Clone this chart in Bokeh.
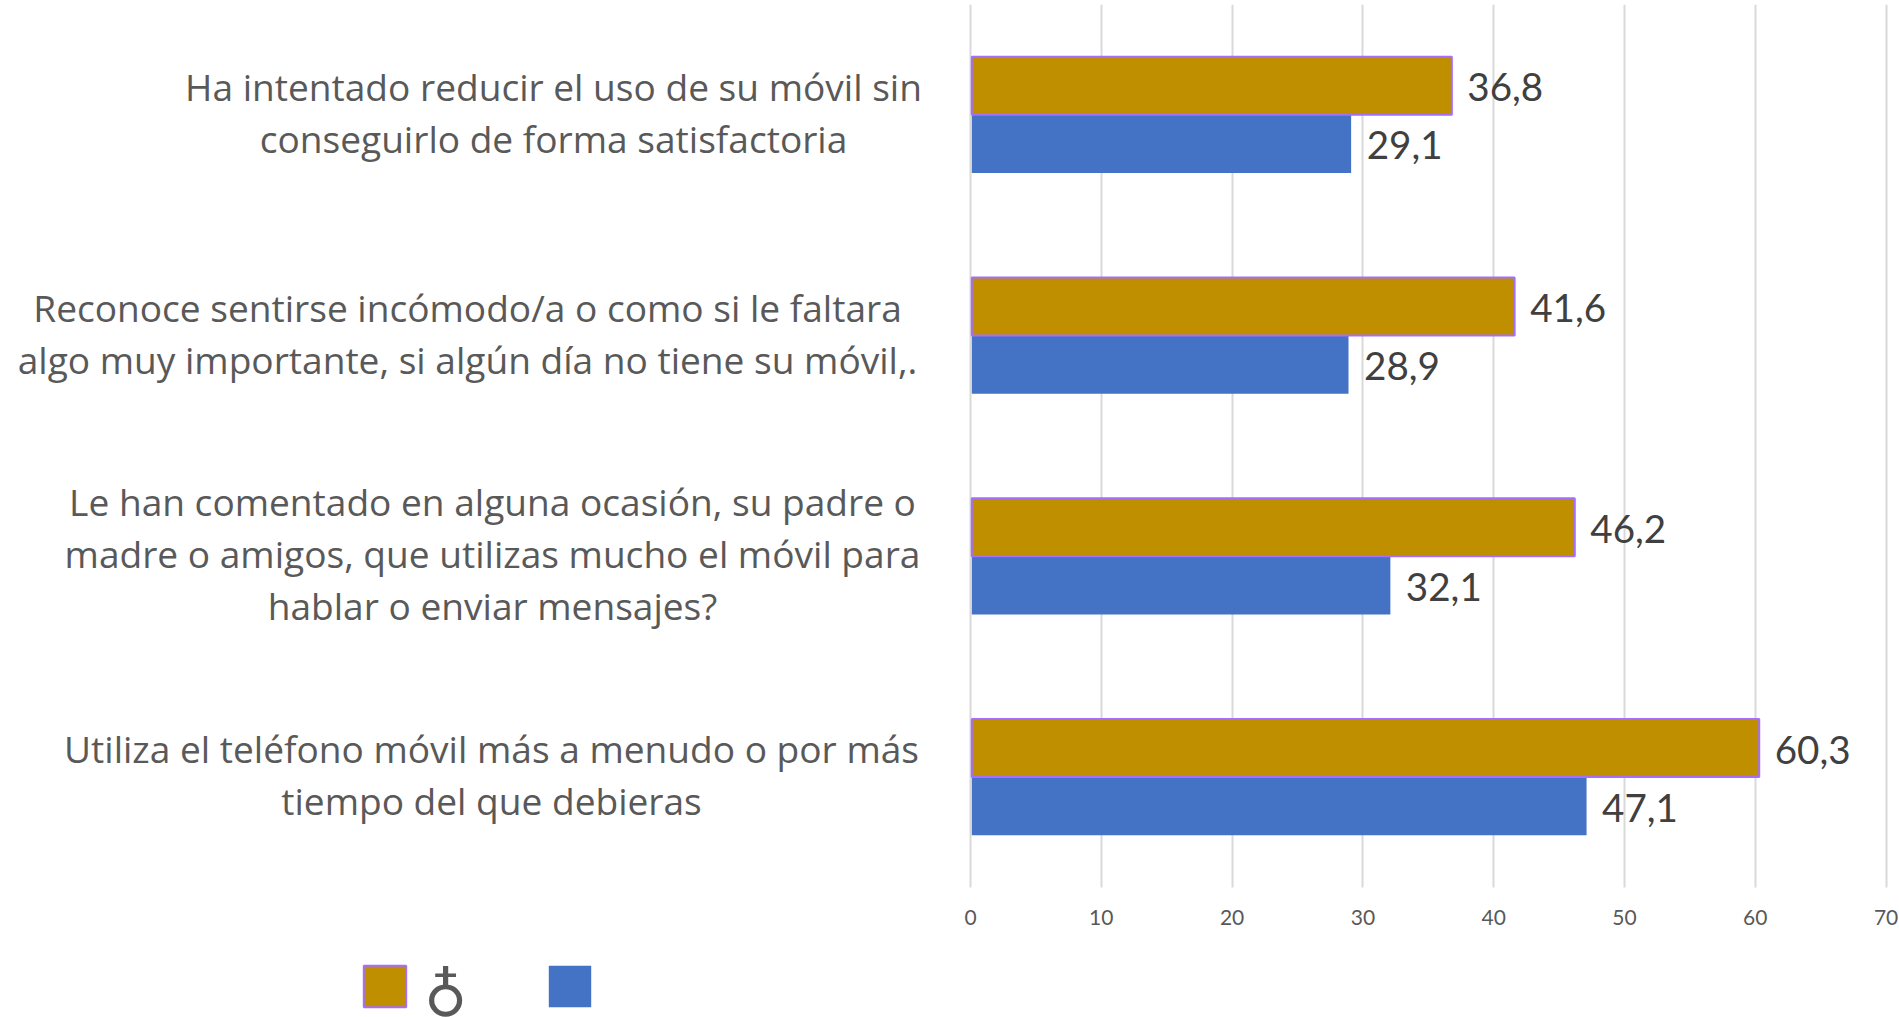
from bokeh.plotting import figure
from bokeh.models import Range1d, FixedTicker, Legend, LegendItem, ColumnDataSource
from bokeh.core.properties import value
from bokeh.embed import file_html
from bokeh.resources import INLINE

# Data (top-down as in the chart)
category_lines = [
    ["Ha intentado reducir el uso de su móvil sin", "conseguirlo de forma satisfactoria"],
    ["Reconoce sentirse incómodo/a o como si le faltara", "algo muy importante, si algún día no tiene su móvil,."],
    ["Le han comentado en alguna ocasión, su padre o", "madre o amigos, que utilizas mucho el móvil para", "hablar o enviar mensajes?"],
    ["Utiliza el teléfono móvil más a menudo o por más", "tiempo del que debieras"],
]
mujeres = [36.8, 41.6, 46.2, 60.3]
hombres = [29.1, 28.9, 32.1, 47.1]
x_ticks = [0, 10, 20, 30, 40, 50, 60, 70]
series_symbol = "♁"

# Layout and style
W, H = 1899, 1017
ZERO_PX, UNIT_PX = 970.0, 13.08
GOLD, BLUE, EDGE = "#BF8F00", "#4472C4", "#A56EFF"
BAR = 0.263
LINE_PX = 52
label_centre_px = [-417, -503, -478, -479]   # centre of each label block, relative to the zero line

n = len(category_lines)
ypos = [n - 1 - i for i in range(n)]

p = figure(width=W, height=H, output_backend="svg", toolbar_location=None,
           x_range=Range1d(-ZERO_PX / UNIT_PX, (W - ZERO_PX) / UNIT_PX),
           y_range=Range1d(-1.089, 3.5),
           min_border_left=0, min_border_right=0, min_border_top=4, min_border_bottom=0,
           y_axis_location=None)
p.outline_line_color = None
p.background_fill_color = "white"
p.ygrid.visible = False
p.xgrid.ticker = FixedTicker(ticks=x_ticks)
p.xgrid.grid_line_color = "#D9D9D9"
p.xgrid.grid_line_width = 2
p.xgrid.cross_bounds = (-0.5, 3.5)
p.xaxis.fixed_location = -0.5
p.xaxis.ticker = FixedTicker(ticks=x_ticks)
p.xaxis.axis_line_color = None
p.xaxis.major_tick_line_color = None
p.xaxis.minor_tick_line_color = None
p.xaxis.major_label_text_font = "Lato"
p.xaxis.major_label_text_font_size = "21px"
p.xaxis.major_label_text_color = "#595959"
p.xaxis.major_label_standoff = 17

src = ColumnDataSource(dict(
    y_top=[y + BAR / 2 for y in ypos],
    y_bot=[y - BAR / 2 for y in ypos],
    m=mujeres, h=hombres,
    m_t=[f"{v:.1f}".replace(".", ",") for v in mujeres],
    h_t=[f"{v:.1f}".replace(".", ",") for v in hombres],
))
blue = p.hbar(y="y_bot", right="h", left=0.1, height=BAR, source=src, fill_color=BLUE, line_color=None)
gold = p.hbar(y="y_top", right="m", left=0.1, height=BAR, source=src, fill_color=GOLD,
              line_color=EDGE, line_width=2)

for xcol, tcol, ycol in (("m", "m_t", "y_top"), ("h", "h_t", "y_bot")):
    p.text(x=xcol, y=ycol, text=tcol, source=src, x_offset=15.5, y_offset=1.5, text_align="left",
           text_baseline="middle", text_font=value("Lato"), text_font_size="38.6px", text_color="#404040")

# category labels: centred lines left of the axis
tx, ty, tt, to = [], [], [], []
for i, lines in enumerate(category_lines):
    for j, s in enumerate(lines):
        tx.append(label_centre_px[i] / UNIT_PX)
        ty.append(ypos[i])
        tt.append(s)
        to.append((j - (len(lines) - 1) / 2) * LINE_PX - 2.5)
p.text(x=tx, y=ty, text=tt, y_offset=to, text_align="center", text_baseline="middle",
       text_font=value("Open Sans"), text_font_size="37.1px", text_color="#595959")

# legend: swatches from the library, the series symbol beside the first one
legend = Legend(items=[LegendItem(label=value(" "), renderers=[gold]),
                       LegendItem(label=value(" "), renderers=[blue])],
                orientation="horizontal", location=(358, 5), glyph_width=53, glyph_height=52,
                label_text_font="DejaVu Sans", label_text_font_size="10px",
                label_standoff=0, spacing=112, padding=0, margin=0,
                background_fill_alpha=0, border_line_alpha=0)
p.add_layout(legend)
p.text(x=[(445 - ZERO_PX) / UNIT_PX], y=[-0.989], text=[series_symbol], text_align="center",
       text_baseline="middle", text_font=value("DejaVu Sans"), text_font_size="59px", text_color="#595959")

open("out.html", "w").write(file_html(p, INLINE))
